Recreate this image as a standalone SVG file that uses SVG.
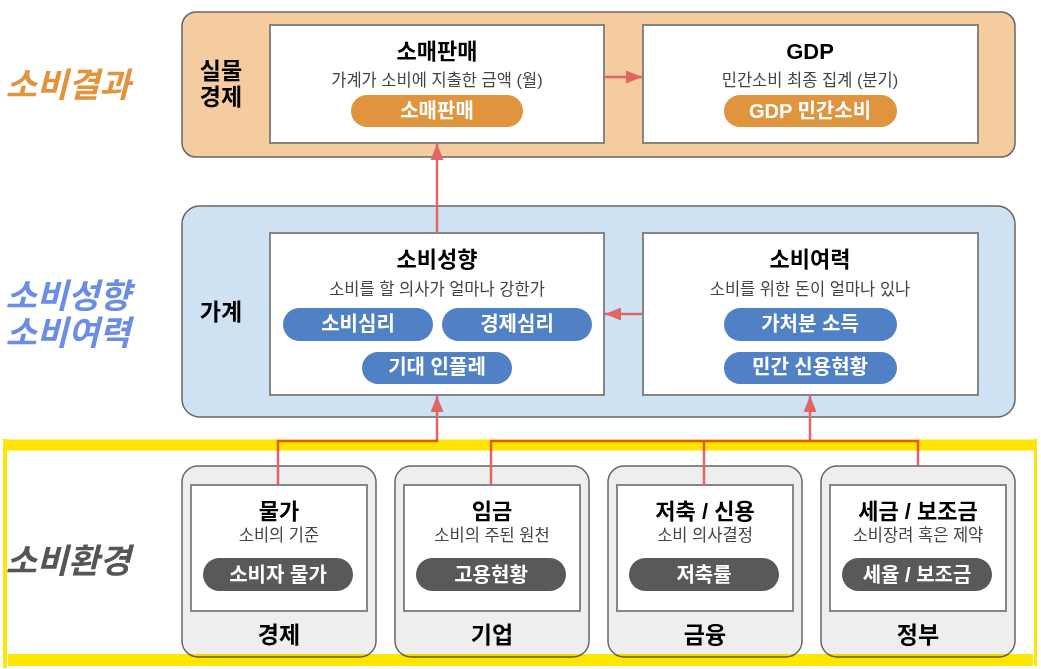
<svg xmlns="http://www.w3.org/2000/svg" width="1041" height="669" viewBox="0 0 1041 669">
<defs>
<style>
text{font-family:"Liberation Sans","Noto Sans CJK KR",sans-serif;text-anchor:middle}
.cont{stroke:#666;stroke-width:1.5}
.box{fill:#fff;stroke:#7a7a7a;stroke-width:1.8}
.env{fill:#eee;stroke:#666;stroke-width:1.5}
.title{font-size:22px;font-weight:bold;fill:#000}
.sub{font-size:16.5px;fill:#444}
.grp{font-size:23px;font-weight:bold;fill:#000}
.pilltext{font-size:20px;font-weight:bold;fill:#fff}
.side{font-size:34px;font-weight:bold;font-style:italic}
.po{fill:#E0943E}
.pb{fill:#4F81C4}
.pg{fill:#595959}
.conn{fill:none;stroke:#E06666;stroke-width:2.5}
</style>
<marker id="ah" markerUnits="userSpaceOnUse" markerWidth="17" markerHeight="13" refX="16" refY="6.5" orient="auto">
<path d="M0,0 L16,6.5 L0,13 z" fill="#E06666"/>
</marker>
</defs>
<rect width="1041" height="669" fill="#fff"/>

<!-- side labels -->
<text class="side" x="68" y="97" fill="#E0943E">소비결과</text>
<text class="side" x="68" y="308" fill="#6B8DE6">소비성향</text>
<text class="side" x="68" y="345" fill="#6B8DE6">소비여력</text>
<text class="side" x="68" y="573" fill="#555">소비환경</text>

<!-- top layer -->
<g id="layer-real">
<rect class="cont" x="182" y="12" width="833" height="145" rx="14" fill="#F4CCA0"/>
<text class="grp" x="221" y="79">실물</text>
<text class="grp" x="221" y="105">경제</text>
</g>
<g id="node-retail">
<rect class="box" x="270" y="25" width="334" height="118"/>
<text class="title" x="437" y="59">소매판매</text>
<text class="sub" x="437" y="86">가계가 소비에 지출한 금액 (월)</text>
<rect class="po" x="351" y="95" width="172" height="32" rx="16"/>
<text class="pilltext" x="437" y="118">소매판매</text>
</g>
<g id="node-gdp">
<rect class="box" x="643" y="25" width="335" height="118"/>
<text class="title" x="810" y="59">GDP</text>
<text class="sub" x="810" y="86">민간소비 최종 집계 (분기)</text>
<rect class="po" x="724" y="95" width="173" height="32" rx="16"/>
<text class="pilltext" x="810" y="118">GDP 민간소비</text>
</g>

<!-- middle layer -->
<g id="layer-household">
<rect class="cont" x="182" y="206" width="833" height="211" rx="18" fill="#CFE2F3"/>
<text class="grp" x="221" y="320">가계</text>
</g>
<g id="node-propensity">
<rect class="box" x="270" y="233" width="334" height="162"/>
<text class="title" x="437" y="267">소비성향</text>
<text class="sub" x="437" y="295">소비를 할 의사가 얼마나 강한가</text>
<rect class="pb" x="283" y="308" width="150" height="33" rx="16.5"/>
<text class="pilltext" x="358" y="331">소비심리</text>
<rect class="pb" x="442" y="308" width="150" height="33" rx="16.5"/>
<text class="pilltext" x="517" y="331">경제심리</text>
<rect class="pb" x="362" y="352" width="150" height="32" rx="16"/>
<text class="pilltext" x="437" y="374">기대 인플레</text>
</g>
<g id="node-capacity">
<rect class="box" x="643" y="233" width="335" height="162"/>
<text class="title" x="810" y="267">소비여력</text>
<text class="sub" x="810" y="295">소비를 위한 돈이 얼마나 있나</text>
<rect class="pb" x="724" y="308" width="173" height="33" rx="16.5"/>
<text class="pilltext" x="810" y="331">가처분 소득</text>
<rect class="pb" x="724" y="352" width="173" height="32" rx="16"/>
<text class="pilltext" x="810" y="374">민간 신용현황</text>
</g>

<!-- bottom layer -->
<g id="node-economy">
<rect class="env" x="182" y="466" width="194" height="191" rx="16"/>
<rect class="box" x="191" y="485" width="176" height="126"/>
<text class="title" x="279" y="519">물가</text>
<text class="sub" x="279" y="541">소비의 기준</text>
<rect class="pg" x="203" y="558" width="150" height="33" rx="16.5"/>
<text class="pilltext" x="278" y="582">소비자 물가</text>
<text class="grp" x="279" y="643">경제</text>
</g>
<g id="node-business">
<rect class="env" x="395" y="466" width="194" height="191" rx="16"/>
<rect class="box" x="404" y="485" width="176" height="126"/>
<text class="title" x="492" y="519">임금</text>
<text class="sub" x="492" y="541">소비의 주된 원천</text>
<rect class="pg" x="416" y="558" width="150" height="33" rx="16.5"/>
<text class="pilltext" x="491" y="582">고용현황</text>
<text class="grp" x="492" y="643">기업</text>
</g>
<g id="node-finance">
<rect class="env" x="608" y="466" width="194" height="191" rx="16"/>
<rect class="box" x="617" y="485" width="176" height="126"/>
<text class="title" x="705" y="519">저축 / 신용</text>
<text class="sub" x="705" y="541">소비 의사결정</text>
<rect class="pg" x="629" y="558" width="150" height="33" rx="16.5"/>
<text class="pilltext" x="704" y="582">저축률</text>
<text class="grp" x="705" y="643">금융</text>
</g>
<g id="node-government">
<rect class="env" x="821" y="466" width="194" height="191" rx="16"/>
<rect class="box" x="830" y="485" width="176" height="126"/>
<text class="title" x="918" y="519">세금 / 보조금</text>
<text class="sub" x="918" y="541">소비장려 혹은 제약</text>
<rect class="pg" x="842" y="558" width="150" height="33" rx="16.5"/>
<text class="pilltext" x="917" y="582">세율 / 보조금</text>
<text class="grp" x="918" y="643">정부</text>
</g>

<!-- connectors -->
<g id="connectors">
<path class="conn" d="M604,77 H642" marker-end="url(#ah)"/>
<path class="conn" d="M437,233 V144" marker-end="url(#ah)"/>
<path class="conn" d="M643,314 H605" marker-end="url(#ah)"/>
<path class="conn" d="M278,485 V441 H437 V396" marker-end="url(#ah)"/>
<path class="conn" d="M491,485 V441 H918 V466"/>
<path class="conn" d="M704,441 V485"/>
<path class="conn" d="M810,441 V396" marker-end="url(#ah)"/>
</g>

<!-- yellow highlight frame -->
<g id="highlight" style="mix-blend-mode:multiply" fill="none" stroke="#FFE600">
<path d="M3,445 H1037" stroke-width="11"/>
<path d="M5,439 V668" stroke-width="4"/>
<path d="M1035.5,439 V666" stroke-width="3"/>
<path d="M8,660 H1033" stroke-width="12"/>
</g>
</svg>
